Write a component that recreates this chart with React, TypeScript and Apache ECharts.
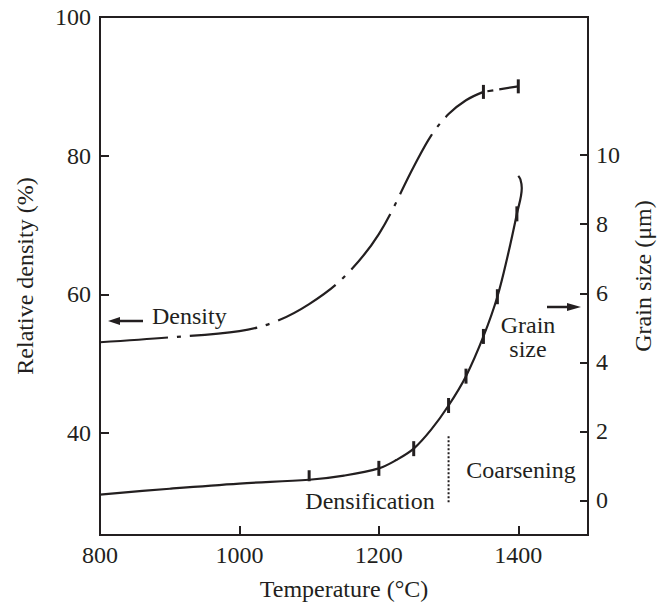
import React, { useEffect, useRef } from "react";
import * as echarts from "echarts";

// ---- data ----
const xTickLabels = [800, 1000, 1200, 1400];
const xTickMarks = [1000, 1200, 1400];
const densityTickLabels = [40, 60, 80, 100];
const densityTickMarks = [40, 60, 80];
const grainTickLabels = [0, 2, 4, 6, 8, 10];

// Relative density (%) vs temperature (°C)
const densityTemps = [800, 900, 1000, 1050, 1100, 1150, 1200, 1250, 1275, 1300, 1325, 1350];
const densityValues = [53.1, 53.8, 54.7, 56.0, 58.6, 62.5, 68.7, 78.4, 82.9, 86.0, 88.0, 89.2];
const densityEndTemps = [1350, 1400];
const densityEndValues = [89.2, 90.0];
const densityMarkTemps = [1350, 1400];
const densityMarkValues = [89.2, 90.0];

// Grain size (µm) vs temperature (°C)
const grainTemps = [800, 900, 1000, 1100, 1150, 1200, 1225, 1250, 1275, 1300, 1325, 1350, 1370, 1385, 1398, 1405, 1403, 1400];
const grainValues = [0.17, 0.34, 0.49, 0.6, 0.72, 0.93, 1.17, 1.5, 2.05, 2.75, 3.6, 4.75, 5.9, 7.1, 8.3, 9.05, 9.3, 9.4];
const grainMarkTemps = [1100, 1200, 1250, 1300, 1325, 1350, 1370, 1398];
const grainMarkValues = [0.6, 0.93, 1.5, 2.75, 3.6, 4.75, 5.9, 8.3];

// Densification / coarsening boundary
const boundaryTemp = 1300;
const boundaryGrain = [-0.05, 1.9];

const INK = "#231f20";
const FONT = "Liberation Serif";

function zip(xs: number[], ys: number[]) {
  return xs.map((x, i) => [x, ys[i]]);
}

export default function App() {
  const ref = useRef<HTMLDivElement>(null);
  useEffect(() => {
    if (!ref.current) return;
    const chart = echarts.init(ref.current, undefined, { renderer: "svg" });
    const labelStyle = { fontFamily: FONT, fontSize: 24, color: INK };
    const plain = (v: number) => String(v);
    const grainMarks = grainMarkTemps.map((t, i) =>
      i === 0
        ? { value: [t, grainMarkValues[i]], symbolSize: [3, 11], symbolOffset: [0, -4] }
        : { value: [t, grainMarkValues[i]] }
    );
    chart.setOption({
      animation: false,
      backgroundColor: "#fff",
      grid: {
        left: 100,
        right: 72,
        top: 17,
        bottom: 68,
        outerBoundsMode: "none",
        containLabel: false,
        show: true,
        borderColor: INK,
        borderWidth: 2,
      },
      xAxis: {
        type: "value",
        min: 800,
        max: 1500,
        name: "Temperature (°C)",
        nameLocation: "middle",
        nameGap: 42,
        nameTextStyle: labelStyle,
        axisLine: { show: true, onZero: false, lineStyle: { color: INK, width: 2 } },
        axisTick: {
          show: true,
          inside: true,
          length: 9,
          customValues: xTickMarks,
          lineStyle: { color: INK, width: 2 },
        },
        axisLabel: { ...labelStyle, margin: 8, customValues: xTickLabels, formatter: plain },
        splitLine: { show: false },
      },
      yAxis: [
        {
          type: "value",
          min: 25.3,
          max: 100,
          name: "Relative density (%)",
          nameLocation: "middle",
          nameGap: 63,
          nameTextStyle: labelStyle,
          axisLine: { show: true, onZero: false, lineStyle: { color: INK, width: 2 } },
          axisTick: {
            show: true,
            inside: true,
            length: 9,
            customValues: densityTickMarks,
            lineStyle: { color: INK, width: 2 },
          },
          axisLabel: { ...labelStyle, margin: 9, customValues: densityTickLabels, formatter: plain },
          splitLine: { show: false },
        },
        {
          type: "value",
          min: -1,
          max: 14,
          position: "right",
          name: "Grain size (μm)",
          nameLocation: "middle",
          nameGap: 42,
          nameTextStyle: labelStyle,
          axisLine: { show: true, onZero: false, lineStyle: { color: INK, width: 2 } },
          axisTick: {
            show: true,
            inside: true,
            length: 8,
            customValues: grainTickLabels,
            lineStyle: { color: INK, width: 2 },
          },
          axisLabel: { ...labelStyle, margin: 8, customValues: grainTickLabels, formatter: plain },
          splitLine: { show: false },
        },
      ],
      series: [
        {
          type: "line",
          yAxisIndex: 0,
          data: zip(densityTemps, densityValues),
          smooth: 0.35,
          showSymbol: false,
          lineStyle: { color: INK, width: 2.2, type: [68, 9, 4, 9] },
        },
        {
          type: "line",
          yAxisIndex: 0,
          data: zip(densityEndTemps, densityEndValues),
          showSymbol: false,
          lineStyle: { color: INK, width: 2.2, type: [0.01, 4, 6, 6, 40, 0.01] },
        },
        {
          type: "scatter",
          yAxisIndex: 0,
          data: zip(densityMarkTemps, densityMarkValues),
          symbol: "rect",
          symbolSize: [3, 14],
          itemStyle: { color: INK, opacity: 1 },
        },
        {
          type: "line",
          yAxisIndex: 1,
          data: zip(grainTemps, grainValues),
          smooth: 0.35,
          showSymbol: false,
          lineStyle: { color: INK, width: 2.2 },
        },
        {
          type: "scatter",
          yAxisIndex: 1,
          data: grainMarks,
          symbol: "rect",
          symbolSize: [3, 15],
          itemStyle: { color: INK, opacity: 1 },
        },
        {
          type: "line",
          yAxisIndex: 1,
          data: boundaryGrain.map((g) => [boundaryTemp, g]),
          showSymbol: false,
          lineStyle: { color: INK, width: 2, type: [2, 2] },
        },
      ],
      graphic: [
        {
          type: "text",
          x: 152,
          y: 316,
          style: { text: "Density", font: `24px "${FONT}"`, fill: INK, verticalAlign: "middle" },
        },
        {
          type: "line",
          shape: { x1: 117, y1: 321, x2: 143, y2: 321 },
          style: { stroke: INK, lineWidth: 2.5 },
        },
        {
          type: "polygon",
          shape: { points: [[108, 321], [120, 317], [120, 325]] },
          style: { fill: INK },
        },
        {
          type: "line",
          shape: { x1: 547, y1: 307, x2: 570, y2: 307 },
          style: { stroke: INK, lineWidth: 2.5 },
        },
        {
          type: "polygon",
          shape: { points: [[581, 307], [567, 303], [567, 311]] },
          style: { fill: INK },
        },
        {
          type: "text",
          x: 528,
          y: 337,
          style: {
            text: "Grain\nsize",
            font: `24px "${FONT}"`,
            lineHeight: 24,
            fill: INK,
            align: "center",
            verticalAlign: "middle",
          },
        },
        {
          type: "text",
          x: 370,
          y: 501,
          style: { text: "Densification", font: `24px "${FONT}"`, fill: INK, align: "center", verticalAlign: "middle" },
        },
        {
          type: "text",
          x: 521,
          y: 470,
          style: { text: "Coarsening", font: `24px "${FONT}"`, fill: INK, align: "center", verticalAlign: "middle" },
        },
      ],
    });
    return () => chart.dispose();
  }, []);
  return <div ref={ref} style={{ position: "absolute", left: 0, top: 0, width: 660, height: 603 }} />;
}
